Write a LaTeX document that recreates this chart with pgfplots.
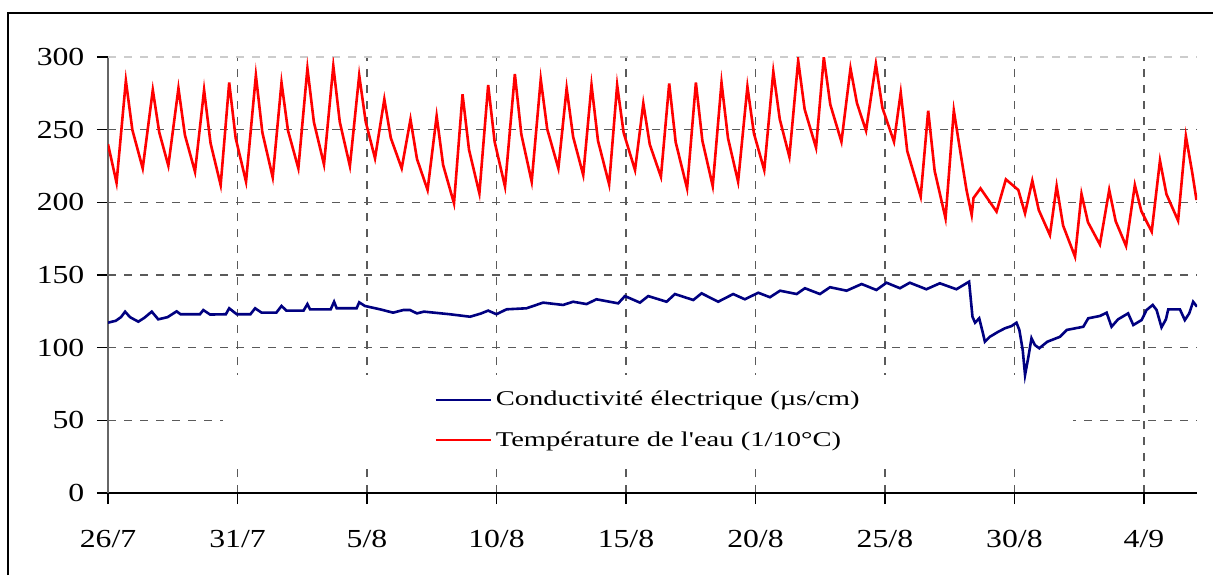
\documentclass[border=0pt]{standalone}
\usepackage{fontspec}
\setmainfont{Liberation Serif}
\newfontfamily\tickfont[FakeStretch=1.22]{Liberation Serif}
\newfontfamily\legfont[FakeStretch=1.36]{Liberation Serif}
\usepackage{pgfplots}
\pgfplotsset{compat=1.18}
\definecolor{condblue}{RGB}{0,0,128}
\definecolor{tempred}{RGB}{255,0,0}
\definecolor{gridgray}{RGB}{90,90,90}

\begin{document}
\begin{tikzpicture}
\path[use as bounding box] (0,0) rectangle (606.5pt,287.5pt);
% chart frame (only left and top edges fall inside the picture)
\draw[line width=1.3pt] (4pt,0pt) -- (4pt,281pt) -- (610pt,281pt);

\begin{axis}[
    at={(54pt,41pt)}, anchor=south west,
    scale only axis,
    width=544.5pt, height=218pt,
    xmin=0, xmax=42.05,
    ymin=0, ymax=300,
    axis lines*=left,
    x axis line style={black, line width=0.6pt},
    y axis line style={black!60, line width=0.6pt},
    xtick={0,5,10,15,20,25,30,35,40},
    xticklabels={26/7,31/7,5/8,10/8,15/8,20/8,25/8,30/8,4/9},
    ytick={0,50,100,150,200,250},
    extra y ticks={300},
    extra y tick style={major grid style={black!20, line width=0.6pt, dash pattern=on 4pt off 4pt}},
    tick align=outside,
    major tick length=5.5pt,
    tick style={black, line width=0.6pt},
    /pgf/number format/assume math mode=true,
    tick label style={font=\tickfont\fontsize{13}{15}\selectfont},
    yticklabel style={xshift=-2.8pt},
    xticklabel style={yshift=-9.5pt},
    grid=major,
    major grid style={gridgray, line width=0.6pt, dash pattern=on 4pt off 4pt},
    legend cell align=left,
    legend style={at={(0.497,0.167)}, anchor=center, draw=none, fill=none,
        font=\legfont\fontsize{10.5}{12}\selectfont, row sep=7.5pt},
    legend image code/.code={\draw[#1, line width=1pt] (0pt,0pt) -- (27.5pt,0pt);},
]

% white legend background hiding the grid behind it
\fill[white] (axis cs:4.44,17.9) rectangle (axis cs:37.26,81.2);

% Conductivite electrique (us/cm)
\addplot[condblue, line width=1.3pt] coordinates {
    (0,117.2) (0.3,118.5) (0.5,121) (0.66,124.8) (0.85,121) (1.17,117.9)
    (1.4,120.5) (1.69,124.8) (1.94,119.5) (2.3,121) (2.65,125) (2.8,123)
    (3.55,123) (3.68,125.9) (3.94,122.8) (4.55,123) (4.68,127.1) (4.97,123)
    (5.5,123) (5.68,127.1) (5.93,124.1) (6.5,124.1) (6.70,128.7) (6.89,125.5)
    (7.55,125.5) (7.70,130) (7.80,126.4) (8.6,126.4) (8.73,131.6) (8.83,127.1)
    (9.6,127.1) (9.70,131.2) (9.92,128.7) (10.5,126.4) (11.01,124.1) (11.40,125.9)
    (11.66,125.9) (11.93,123.6) (12.2,124.8) (13.2,123) (13.98,121.3) (14.4,123.5)
    (14.68,125.5) (15.0,123) (15.39,126.4) (16.16,127.1) (16.80,131) (17.57,129.4)
    (17.96,131.6) (18.48,130) (18.86,133.3) (19.70,130.5) (19.96,135.5) (20.54,131)
    (20.86,135.5) (21.57,131.6) (21.89,136.9) (22.6,132.8) (22.92,137.4) (23.56,131.6)
    (24.14,136.9) (24.59,133.3) (25.11,137.8) (25.56,134.7) (25.95,139.2) (26.59,136.9)
    (26.91,140.9) (27.49,136.9) (27.88,141.6) (28.52,139.2) (29.1,143.8) (29.67,139.7)
    (30.06,144.7) (30.58,140.9) (30.96,144.7) (31.6,140.2) (32.12,144.3) (32.76,140.2)
    (33.25,145.4) (33.38,121.3) (33.48,117.2) (33.64,120.2) (33.77,111) (33.86,104.1)
    (34.05,107.5) (34.38,111) (34.63,113.3) (34.89,114.9) (35.08,117.2) (35.19,112.2)
    (35.32,98.4) (35.41,81.2) (35.53,92.7) (35.66,106.5) (35.79,101.8) (35.96,99.6)
    (36.27,104.1) (36.76,107.5) (37.02,112.2) (37.66,114.4) (37.85,120.2) (38.30,121.8)
    (38.56,124.1) (38.75,114.4) (39.0,119.5) (39.39,123.6) (39.59,115.6) (39.91,119)
    (40.1,125.9) (40.34,129.4) (40.49,125.9) (40.68,114) (40.85,119.5) (40.94,126.4)
    (41.39,126.4) (41.58,119) (41.75,123.6) (41.90,131.6) (42.05,128.2)
};
\addlegendentry{Conductivité électrique (µs/cm)}

% Temperature de l'eau (1/10 degC)
\addplot[tempred, line width=1.3pt] coordinates {
    (0,240) (0.33,213.5) (0.69,283.7) (0.94,249.9) (1.34,223.4) (1.73,277.3)
    (1.98,248.1) (2.33,225.2) (2.72,278.5) (2.97,246.3) (3.36,221) (3.71,277.3)
    (3.96,240.7) (4.35,211.9) (4.68,282.4) (4.93,244.2) (5.33,214.2) (5.71,287.4)
    (5.96,248.1) (6.36,217.2) (6.70,282.4) (6.95,249.4) (7.35,223.4) (7.70,292.2)
    (7.95,255.2) (8.34,226.1) (8.70,293.8) (8.95,255.3) (9.34,225) (9.70,287.4)
    (9.95,255.5) (10.31,230.3) (10.67,270.9) (10.92,244.3) (11.34,223.4) (11.68,257.1)
    (11.93,229.9) (12.34,208.5) (12.69,259.4) (12.94,225.7) (13.36,199.3) (13.69,274.3)
    (13.94,236.2) (14.34,206.2) (14.68,280.7) (14.93,241.6) (15.33,210.8) (15.71,288.3)
    (15.96,246.8) (16.36,214.2) (16.71,284.7) (16.96,250.4) (17.39,223.4) (17.71,278.5)
    (17.96,245.1) (18.35,218.8) (18.67,280.7) (18.92,242.4) (19.35,212.4) (19.66,280.7)
    (19.91,247.9) (20.35,222.2) (20.67,268.1) (20.92,239.8) (21.35,217.6) (21.67,281.8)
    (21.92,241.4) (22.36,209.6) (22.70,282.4) (22.95,242.5) (23.35,211.2) (23.69,282.4)
    (23.94,244.2) (24.33,214.2) (24.69,279.6) (24.94,247.5) (25.34,222.2) (25.69,289.9)
    (25.94,257.1) (26.31,231.4) (26.65,297.5) (26.90,264) (27.34,237.6) (27.64,299.8)
    (27.89,267.3) (28.32,241.7) (28.67,292.2) (28.92,268.2) (29.27,249.3) (29.65,295.2)
    (29.90,265.2) (30.35,241.7) (30.61,275.5) (30.86,235.4) (31.38,203.9) (31.67,263.1)
    (31.92,221.6) (32.34,189) (32.66,263.1) (32.91,235) (33.15,208.5) (33.35,191.3)
    (33.42,203) (33.69,209.6) (34.31,193.6) (34.67,215.8) (35.15,208.5) (35.41,192.4)
    (35.69,214.9) (35.94,194.7) (36.37,177.5) (36.63,211.2) (36.88,184) (37.34,162.6)
    (37.59,205.8) (37.84,186.3) (38.30,171) (38.66,208.5) (38.91,187) (39.31,170)
    (39.65,211.9) (39.90,194) (40.3,179.8) (40.62,228.7) (40.87,205.6) (41.32,187.4)
    (41.62,245.6) (41.87,220) (42.03,201.6)
};
\addlegendentry{Température de l'eau (1/10°C)}

\end{axis}
\end{tikzpicture}
\end{document}
